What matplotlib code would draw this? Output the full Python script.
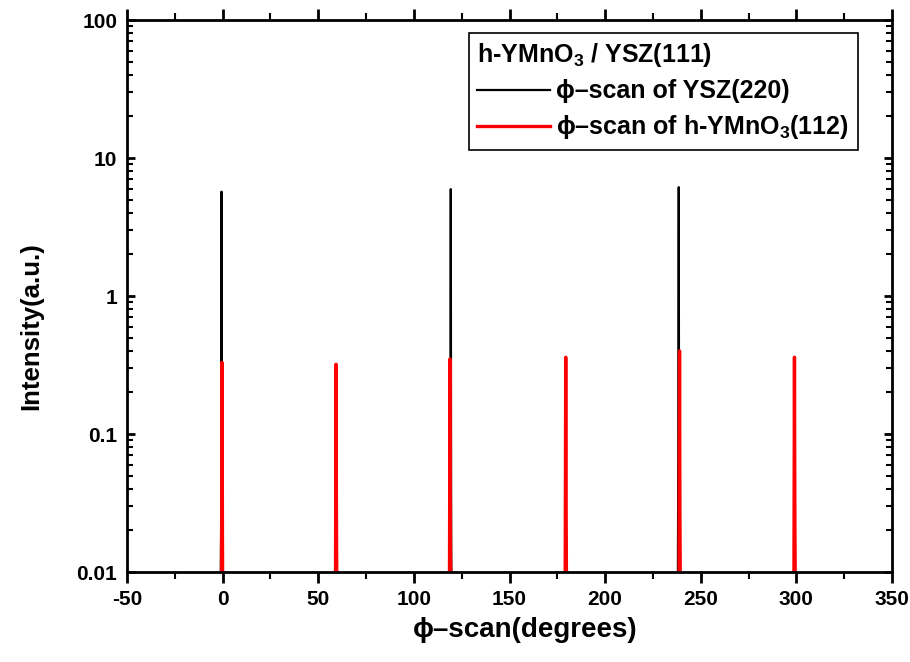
import numpy as np
import matplotlib
matplotlib.use('Agg')
import matplotlib.pyplot as plt
from matplotlib.ticker import MultipleLocator, LogLocator, FuncFormatter, NullFormatter

plt.rcParams['font.family'] = ['Liberation Sans', 'DejaVu Sans']
plt.rcParams['font.weight'] = 'bold'
plt.rcParams['axes.unicode_minus'] = False
plt.rcParams['mathtext.fontset'] = 'custom'
plt.rcParams['mathtext.rm'] = 'Liberation Sans:bold'
plt.rcParams['mathtext.bf'] = 'Liberation Sans:bold'
plt.rcParams['mathtext.default'] = 'bf'

# phi-scan of YSZ(220) (baseline sits below 0.01)
ysz_phi = [-50, -1.2, -0.8, -0.6, -0.4, -0.2, 0.2,
           118.7, 119.1, 119.3, 119.5, 119.9,
           237.9, 238.3, 238.5, 238.7, 239.1, 350]
ysz_int = [0.003, 0.003, 0.02, 5.7, 0.07, 0.012, 0.003,
           0.003, 0.02, 5.95, 0.015, 0.003,
           0.003, 0.09, 6.15, 0.02, 0.003, 0.003]

# phi-scan of h-YMnO3(112)
ymo_phi = [-50, -0.7, -0.3, -0.1, 0.2,
           58.9, 59.3, 59.5, 59.9,
           118.5, 118.9, 119.1, 119.5,
           179.0, 179.4, 179.6, 180.0,
           238.5, 238.9, 239.1, 239.5,
           298.6, 299.0, 299.2, 299.6, 350]
ymo_int = [0.002, 0.002, 0.33, 0.02, 0.002,
           0.002, 0.32, 0.03, 0.002,
           0.002, 0.35, 0.03, 0.002,
           0.002, 0.36, 0.03, 0.002,
           0.002, 0.40, 0.03, 0.002,
           0.002, 0.36, 0.03, 0.002, 0.002]

fig = plt.figure(figsize=(9.10, 6.62), dpi=100)
ax = fig.add_axes([127/910, 1-572/662, 765/910, 552/662])

ax.plot(ysz_phi, ysz_int, color='black', lw=1.6, label='\u03d5\u2013scan of YSZ(220)')
ax.plot(ymo_phi, ymo_int, color='red', lw=2.4, label='\u03d5\u2013scan of h-YMnO$_3$(112)')

ax.set_yscale('log')
ax.set_ylim(0.01, 100)
ax.set_xlim(-50, 350)
ax.xaxis.set_major_locator(MultipleLocator(50))
ax.xaxis.set_minor_locator(MultipleLocator(25))
ax.yaxis.set_major_locator(LogLocator(base=10, numticks=10))
ax.yaxis.set_minor_locator(LogLocator(base=10, subs=np.arange(2, 10), numticks=10))
ax.yaxis.set_major_formatter(FuncFormatter(lambda v, p: '%g' % v))
ax.yaxis.set_minor_formatter(NullFormatter())

for s in ax.spines.values():
    s.set_linewidth(2)

ax.tick_params(axis='x', which='major', direction='out', length=8, width=2,
               labelsize=15, pad=5)
ax.tick_params(axis='x', which='minor', direction='out', length=5, width=1.5)
ax.tick_params(axis='y', which='major', direction='in', length=6, width=2,
               labelsize=15, pad=7)
ax.tick_params(axis='y', which='minor', direction='in', length=4, width=1.5)
ax.tick_params(which='both', top=True, right=True)
ax.tick_params(axis='both', which='both', labeltop=False, labelright=False)

ax.set_xlabel('\u03d5\u2013scan(degrees)', fontsize=20, fontweight='bold', labelpad=6)
ax.set_ylabel('Intensity(a.u.)', fontsize=18.5, fontweight='bold', labelpad=24)
ax.xaxis.label.set_x(0.52)
ax.yaxis.label.set_y(0.445)

leg = ax.legend(title='h-YMnO$_3$ / YSZ(111)', loc='upper right',
                bbox_to_anchor=(0.955, 0.977), borderaxespad=0,
                fontsize=18, title_fontsize=18, handlelength=2.9,
                handletextpad=0.25, fancybox=False, framealpha=1,
                edgecolor='black', borderpad=0.35, labelspacing=0.4)
leg._legend_box.align = 'left'
leg.get_frame().set_linewidth(1.2)
leg.get_title().set_fontweight('bold')

fig.savefig('out.png', dpi=100)
